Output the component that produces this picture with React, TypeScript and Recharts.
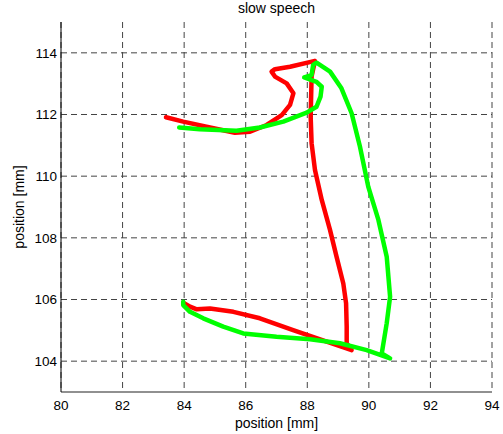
import React from "react"
import { LineChart, Line, XAxis, YAxis, CartesianGrid, Label } from "recharts"

// tongue sensor trajectory, slow speech (x/y positions in mm)
const redX = [
  83.97, 84.19, 84.41, 84.84, 85.6, 86.46, 87.54, 88.63, 89.44, 89.28, 89.28,
  89.26, 89.17, 88.95, 88.74, 88.47, 88.25, 88.14, 88.11, 88.14, 88.25, 87.44,
  86.95, 86.84, 86.95, 87.33, 87.55, 87.44, 87.17, 86.68, 86.14, 85.65, 84.84,
  83.97, 83.41,
]
const redY = [
  105.9, 105.77, 105.68, 105.71, 105.6, 105.39, 105.01, 104.63, 104.36, 104.58,
  105.12, 105.88, 106.52, 107.39, 108.25, 109.23, 110.2, 111.07, 111.93, 113.23,
  113.74, 113.55, 113.47, 113.39, 113.23, 113.01, 112.69, 112.31, 111.98,
  111.66, 111.44, 111.41, 111.58, 111.77, 111.91,
]

const greenX = [
  83.84, 84.51, 85.7, 86.46, 87.22, 87.98, 88.3, 88.43, 88.47, 88.3, 87.9,
  88.14, 88.19, 88.3, 88.74, 89.11, 89.44, 89.71, 89.98, 90.31, 90.58, 90.69,
  90.58, 90.42, 90.69, 89.93, 89.06, 88.09, 87.0, 85.92, 85.27, 84.62, 84.19,
  83.97, 83.97,
]
const greenY = [
  111.58, 111.52, 111.47, 111.58, 111.77, 112.06, 112.25, 112.58, 112.9,
  113.06, 113.2, 113.28, 113.61, 113.68, 113.39, 112.85, 112.04, 110.96,
  109.66, 108.58, 107.39, 106.09, 105.23, 104.25, 104.09, 104.36, 104.58,
  104.71, 104.79, 104.9, 105.12, 105.39, 105.6, 105.82, 105.93,
]

const xTicks = [80, 82, 84, 86, 88, 90, 92, 94]
const yTicks = [104, 106, 108, 110, 112, 114]

const toPoints = (xs: number[], ys: number[]) =>
  xs.map((x, i) => ({ x, y: ys[i] }))

const font = '"Liberation Sans", Arial, sans-serif'

export default function App() {
  const red = toPoints(redX, redY)
  const green = toPoints(greenX, greenY)

  return (
    <div
      style={{
        position: "fixed",
        top: 0,
        left: 0,
        width: 503,
        height: 434,
        background: "#fff",
        fontFamily: font,
      }}
    >
      <div
        style={{
          position: "absolute",
          top: 0,
          left: 61,
          width: 431,
          textAlign: "center",
          fontSize: 14,
          lineHeight: "16px",
          color: "#000",
        }}
      >
        slow speech
      </div>
      <LineChart
        width={503}
        height={434}
        margin={{ top: 22, right: 11, bottom: 12, left: 21 }}
      >
        {/* grid only at the tick values, no frame lines */}
        <CartesianGrid
          syncWithTicks
          stroke="#444"
          strokeDasharray="6 4"
          strokeWidth={1}
        />
        <XAxis
          type="number"
          dataKey="x"
          domain={[80, 94]}
          ticks={xTicks}
          allowDataOverflow
          height={30}
          tickLine={false}
          tickSize={0}
          tickMargin={8}
          axisLine={{ stroke: "#222", strokeWidth: 1.2 }}
          tick={{ fill: "#000", fontSize: 13.5, fontFamily: font }}
        >
          <Label
            value="position [mm]"
            position="bottom"
            offset={-4}
            style={{ fill: "#000", fontSize: 14, fontFamily: font }}
          />
        </XAxis>
        <YAxis
          type="number"
          dataKey="y"
          domain={[103, 115]}
          ticks={yTicks}
          allowDataOverflow
          width={40}
          tickLine={false}
          tickSize={0}
          tickMargin={4}
          axisLine={{ stroke: "#000", strokeWidth: 1 }}
          tick={{ fill: "#000", fontSize: 13.5, fontFamily: font }}
        >
          <Label
            value="position [mm]"
            angle={-90}
            position="insideLeft"
            offset={-2}
            style={{
              fill: "#000",
              fontSize: 14,
              fontFamily: font,
              textAnchor: "middle",
            }}
          />
        </YAxis>
        <Line
          data={red}
          dataKey="y"
          type="linear"
          stroke="#ff0000"
          strokeWidth={4.5}
          strokeLinecap="round"
          strokeLinejoin="round"
          dot={false}
          activeDot={false}
          isAnimationActive={false}
        />
        <Line
          data={green}
          dataKey="y"
          type="linear"
          stroke="#00ff00"
          strokeWidth={4.5}
          strokeLinecap="round"
          strokeLinejoin="round"
          dot={false}
          activeDot={false}
          isAnimationActive={false}
        />
      </LineChart>
    </div>
  )
}
